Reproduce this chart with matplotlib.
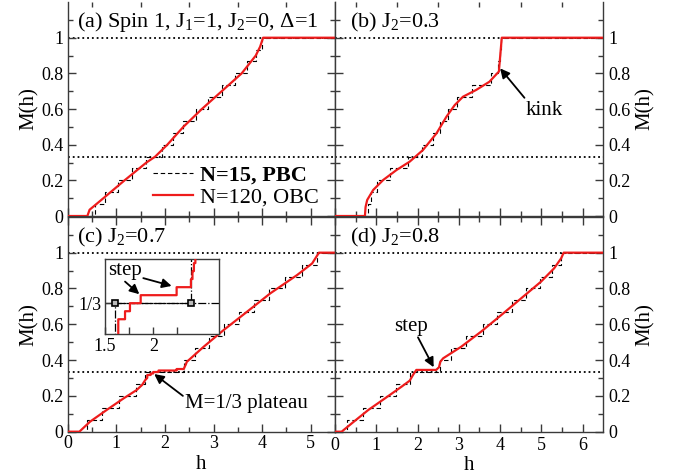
import matplotlib
matplotlib.use("Agg")
import matplotlib.pyplot as plt
from matplotlib.ticker import FixedLocator, FormatStrFormatter

plt.rcParams["font.family"] = ["Liberation Serif", "DejaVu Serif"]
plt.rcParams["mathtext.fontset"] = "custom"
plt.rcParams["mathtext.rm"] = "Liberation Serif"
plt.rcParams["mathtext.it"] = "Liberation Serif:italic"
plt.rcParams["mathtext.bf"] = "Liberation Serif:bold"

# magnetisation levels of the N=15 chain (M = k/15)
M15 = [0, 1/15, 2/15, 3/15, 4/15, 5/15, 6/15, 7/15, 8/15, 9/15,
       10/15, 11/15, 12/15, 13/15, 14/15, 15/15]

# (a) J2=0
h_a = [0, 0.405, 0.45, 0.735, 1.17, 1.62, 1.80, 2.05, 2.38, 2.76, 3.17, 3.58, 3.87, 3.96, 4.02, 5.5]
m_a = [0, 0, 0.035, 0.10, 0.20, 0.30, 0.333, 0.40, 0.50, 0.60, 0.70, 0.80, 0.90, 0.95, 1.0, 1.0]
h15_a = [0.56, 0.76, 1.03, 1.32, 1.62, 1.93, 2.16, 2.38, 2.63, 2.89, 3.17, 3.45, 3.68, 3.87, 3.99]

# (b) J2=0.3
h_b = [0, 0.725, 0.74, 0.78, 0.925, 1.167, 1.49, 1.81, 2.13, 2.46, 2.70, 2.90, 3.10, 3.42, 3.74,
       3.97, 4.04, 6.5]
m_b = [0, 0, 0.05, 0.09, 0.146, 0.202, 0.258, 0.305, 0.37, 0.464, 0.557, 0.622, 0.669, 0.707, 0.753,
       0.81, 1.0, 1.0]
h15_b = [0.80, 0.86, 1.02, 1.34, 1.76, 2.10, 2.37, 2.55, 2.73, 2.95, 3.33, 3.78, 3.96, 4.0, 4.03]

# (c) J2=0.7
h_c = [0, 0.24, 0.46, 0.80, 1.15, 1.42, 1.53, 1.60, 1.637, 1.637, 1.707, 1.707, 1.758, 1.758,
       1.869, 1.869, 2.241, 2.241, 2.389, 2.40, 2.415, 2.43, 2.45, 2.80, 3.21, 3.69, 4.17, 4.72,
       5.03, 5.17, 5.5]
m_c = [0, 0, 0.056, 0.121, 0.186, 0.233, 0.261, 0.29, 0.30, 0.3167, 0.3167, 0.325, 0.325, 0.3333,
       0.3333, 0.3417, 0.3417, 0.35, 0.35, 0.358, 0.367, 0.375, 0.39, 0.475, 0.568, 0.67, 0.773,
       0.875, 0.94, 1.0, 1.0]
h15_c = [0.40, 0.70, 1.05, 1.40, 1.60, 2.39, 2.62, 2.91, 3.21, 3.52, 3.83, 4.14, 4.48, 4.82, 5.12]

# (d) J2=0.8
h_d = [0, 0.16, 0.483, 0.805, 1.21, 1.61, 1.81, 1.89, 1.97, 2.45, 2.52, 2.55, 2.62, 3.06, 3.54,
       4.03, 4.51, 4.99, 5.31, 5.48, 5.54, 6.5]
m_d = [0, 0, 0.061, 0.121, 0.186, 0.251, 0.285, 0.317, 0.345, 0.345, 0.36, 0.39, 0.41, 0.475,
       0.559, 0.652, 0.745, 0.838, 0.913, 0.969, 1.0, 1.0]
h15_d = [0.30, 0.68, 1.09, 1.48, 1.82, 2.55, 2.82, 3.18, 3.58, 3.93, 4.28, 4.62, 4.96, 5.26, 5.47]

# inset of (c): N=120 OBC steps around the 1/3 plateau (M = n/120)
h_in = [1.637, 1.637, 1.707, 1.707, 1.758, 1.758, 1.869, 1.869, 2.241, 2.241, 2.389, 2.389,
        2.405, 2.405, 2.42, 2.42, 2.435, 2.435, 2.45]
m_in = [0.29, 38/120, 38/120, 39/120, 39/120, 40/120, 40/120, 41/120, 41/120, 42/120,
        42/120, 43/120, 43/120, 44/120, 44/120, 45/120, 45/120, 46/120, 0.39]

RED = "#ee1c1c"
SPINE = "#3a3a3a"
FS_TEXT = 15
FS_TITLE = 16
FS_TICK = 13

fig = plt.figure(figsize=(6.75, 4.76), dpi=100)
ax_a = fig.add_axes([0.1003, 0.5462, 0.3960, 0.4495])
ax_b = fig.add_axes([0.4963, 0.5462, 0.3975, 0.4495])
ax_c = fig.add_axes([0.1003, 0.0931, 0.3960, 0.4513])
ax_d = fig.add_axes([0.4963, 0.0931, 0.3975, 0.4513])

panels = [
    (ax_a, h_a, m_a, h15_a, 5.5),
    (ax_b, h_b, m_b, h15_b, 6.5),
    (ax_c, h_c, m_c, h15_c, 5.5),
    (ax_d, h_d, m_d, h15_d, 6.5),
]

for ax, hh, mm, h15, xmax in panels:
    ax.axhline(1.0, color="black", ls=":", lw=1.3, zorder=1)
    ax.axhline(1 / 3, color="black", ls=":", lw=1.3, zorder=1)
    ax.step([0] + h15 + [xmax], M15 + [1.0], where="post", color="black",
            lw=0.8, dashes=(4, 2.5), zorder=2, label="N=15, PBC")
    ax.plot(hh, mm, color=RED, lw=1.6, zorder=3, label="N=120, OBC")
    ax.set_xlim(0, xmax)
    ax.set_ylim(0, 1.2)
    ax.yaxis.set_major_locator(FixedLocator([0, 0.2, 0.4, 0.6, 0.8, 1.0]))
    ax.yaxis.set_minor_locator(FixedLocator([0.1, 0.3, 0.5, 0.7, 0.9, 1.1]))
    ax.xaxis.set_major_locator(FixedLocator(list(range(0, int(xmax) + 1))))
    ax.xaxis.set_minor_locator(FixedLocator([k + 0.5 for k in range(0, int(xmax))]))
    ax.yaxis.set_major_formatter(FormatStrFormatter("%g"))
    ax.xaxis.set_major_formatter(FormatStrFormatter("%g"))
    ax.tick_params(which="both", direction="in", top=True, bottom=True, left=True, right=True,
                   color=SPINE, labelsize=FS_TICK, width=1)
    ax.tick_params(which="major", length=6)
    ax.tick_params(which="minor", length=3.5)
    ax.tick_params(axis="x", pad=2.5)
    for s in ax.spines.values():
        s.set_color(SPINE)
        s.set_linewidth(1)

for ax in (ax_a, ax_b):
    ax.tick_params(labelbottom=False, top=False)
    ax.spines["top"].set_visible(False)

for ax in (ax_b, ax_d):
    ax.tick_params(labelleft=False, labelright=True, pad=3.5)
    ax.yaxis.set_label_position("right")
    ax.set_ylabel("M(h)", fontsize=FS_TEXT, labelpad=4)

for ax in (ax_a, ax_c):
    ax.tick_params(axis="y", pad=3)
    ax.set_ylabel("M(h)", fontsize=FS_TEXT, labelpad=2)

ax_c.set_xlabel("h", fontsize=FS_TEXT, labelpad=2)
ax_d.set_xlabel("h", fontsize=FS_TEXT, labelpad=2)

ax_a.text(0.035, 0.905, "(a) Spin 1, J$_1$=1, J$_2$=0, Δ=1", transform=ax_a.transAxes,
          fontsize=FS_TITLE, va="center", ha="left")
ax_b.text(0.056, 0.905, "(b) J$_2$=0.3", transform=ax_b.transAxes,
          fontsize=FS_TITLE, va="center", ha="left")
ax_c.text(0.035, 0.905, "(c) J$_2$=0.7", transform=ax_c.transAxes,
          fontsize=FS_TITLE, va="center", ha="left")
ax_d.text(0.056, 0.905, "(d) J$_2$=0.8", transform=ax_d.transAxes,
          fontsize=FS_TITLE, va="center", ha="left")

leg = ax_a.legend(loc="lower left", bbox_to_anchor=(0.318, 0.04), frameon=False, fontsize=FS_TITLE,
                  handlelength=1.8, handletextpad=0.35, labelspacing=0.05, borderpad=0,
                  borderaxespad=0)
leg.get_texts()[0].set_fontweight("bold")

arrow = dict(arrowstyle="-|>", color="black", lw=1.3, mutation_scale=14, shrinkA=0, shrinkB=0)
ax_b.annotate("", xy=(4.0, 0.828), xytext=(4.59, 0.663), arrowprops=arrow)
ax_b.text(5.07, 0.566, "kink", fontsize=FS_TEXT, ha="center", va="baseline")

ax_c.annotate("", xy=(1.78, 0.322), xytext=(2.37, 0.20), arrowprops=arrow)
ax_c.text(2.42, 0.131, "M=1/3 plateau", fontsize=FS_TEXT, ha="left", va="baseline")

ax_d.annotate("", xy=(2.39, 0.36), xytext=(2.01, 0.527), arrowprops=arrow)
ax_d.text(1.85, 0.59, "step", fontsize=FS_TEXT, ha="center", va="center")

# inset of panel (c)
ins = fig.add_axes([0.1556, 0.2977, 0.1689, 0.1576])
ins.axhline(1 / 3, color="black", ls="-.", lw=0.9, zorder=1)
ins.step([0] + h15_c + [5.5], M15 + [1.0], where="post", color="black", ls="-.", lw=0.9, zorder=2)
ins.plot([h15_c[4], h15_c[5]], [M15[5], M15[5]], ls="none", marker="s", ms=5,
         mfc="#bbbbbb", mec="black", mew=1.2, zorder=4)
ins.plot(h_in, m_in, color=RED, lw=1.6, zorder=3)
ins.set_xlim(1.5, 2.68)
ins.set_ylim(0.301, 0.379)
ins.xaxis.set_major_locator(FixedLocator([1.5, 2.0]))
ins.xaxis.set_minor_locator(FixedLocator([1.75, 2.25]))
ins.xaxis.set_major_formatter(FormatStrFormatter("%g"))
ins.yaxis.set_major_locator(FixedLocator([1 / 3]))
ins.set_yticklabels(["1/3"])
ins.tick_params(which="both", direction="in", top=False, right=False, color=SPINE,
                labelsize=FS_TICK, width=1, pad=2.5)
ins.tick_params(which="major", length=5)
ins.tick_params(which="minor", length=5)
for s in ins.spines.values():
    s.set_color(SPINE)
    s.set_linewidth(1)
ins.annotate("", xy=(1.855, 0.3427), xytext=(1.707, 0.3558), arrowprops=arrow)
ins.annotate("", xy=(2.189, 0.3513), xytext=(1.896, 0.3594), arrowprops=arrow)
ins.text(1.707, 0.367, "step", fontsize=FS_TEXT, ha="center", va="center")

fig.savefig("out.png", dpi=100)
